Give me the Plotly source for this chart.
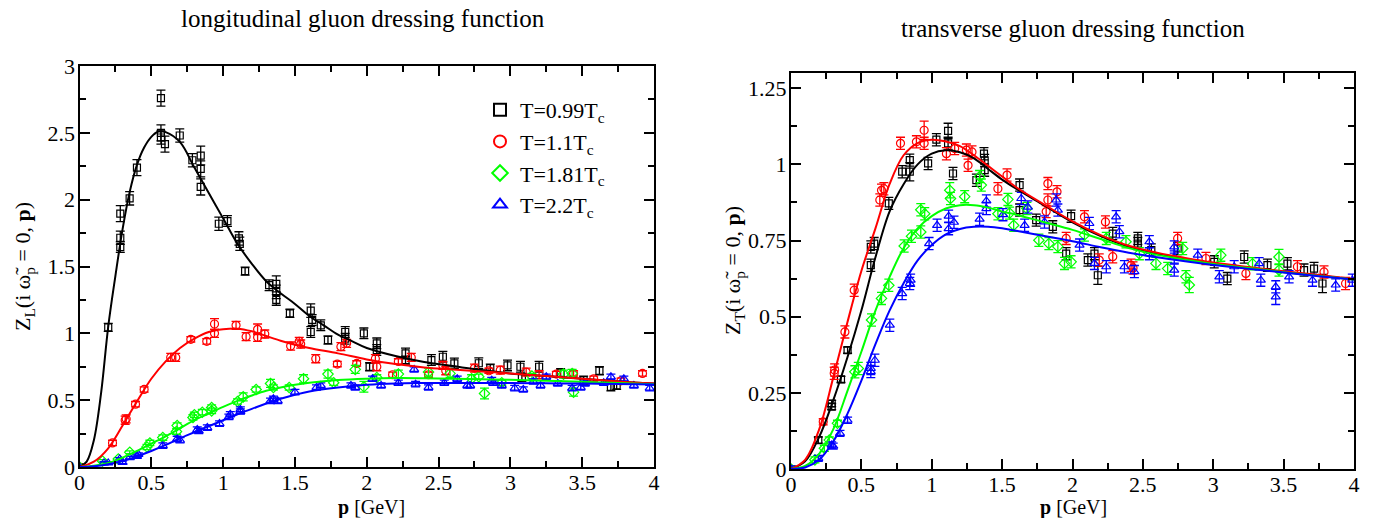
import plotly.graph_objects as go
from plotly.subplots import make_subplots

# ---------------------------------------------------------------------------
# Lattice data: (p [GeV], Z, dZ)
# ---------------------------------------------------------------------------
ZL_T099 = [
    (0.0, 0.0, 0.01), (0.20, 1.045, 0.03), (0.284, 1.645, 0.04), (0.284, 1.715, 0.05),
    (0.284, 1.895, 0.06), (0.349, 2.01, 0.05), (0.40, 2.24, 0.06), (0.567, 2.76, 0.06),
    (0.567, 2.50, 0.06), (0.567, 2.465, 0.05), (0.595, 2.415, 0.06), (0.698, 2.48, 0.05),
    (0.786, 2.295, 0.05), (0.844, 2.33, 0.07), (0.844, 2.23, 0.06), (0.844, 2.095, 0.06),
    (0.97, 1.82, 0.05), (1.03, 1.84, 0.04), (1.11, 1.71, 0.05), (1.116, 1.67, 0.05),
    (1.153, 1.465, 0.03), (1.32, 1.36, 0.04), (1.37, 1.37, 0.06), (1.37, 1.31, 0.05),
    (1.37, 1.25, 0.04), (1.465, 1.15, 0.03), (1.61, 1.17, 0.05), (1.62, 1.10, 0.04),
    (1.61, 1.01, 0.04), (1.68, 1.06, 0.04), (1.73, 0.95, 0.03), (1.85, 1.01, 0.04),
    (1.85, 0.96, 0.04), (1.98, 1.0, 0.04), (2.02, 0.75, 0.03), (2.07, 0.925, 0.04),
    (2.07, 0.875, 0.04), (2.27, 0.85, 0.04), (2.27, 0.80, 0.03), (2.45, 0.80, 0.04),
    (2.53, 0.825, 0.04), (2.61, 0.775, 0.04), (2.78, 0.776, 0.04), (2.86, 0.74, 0.03),
    (2.98, 0.76, 0.04), (3.07, 0.75, 0.04), (3.08, 0.67, 0.03), (3.20, 0.75, 0.04),
    (3.35, 0.705, 0.03), (3.51, 0.65, 0.03), (3.62, 0.72, 0.03), (3.70, 0.60, 0.03),
    (3.74, 0.61, 0.03),
]
ZL_T110 = [
    (0.0, 0.0, 0.01), (0.23, 0.18, 0.02), (0.318, 0.35, 0.03), (0.325, 0.36, 0.03),
    (0.39, 0.47, 0.02), (0.45, 0.58, 0.02), (0.635, 0.82, 0.03), (0.67, 0.82, 0.03),
    (0.775, 0.955, 0.02), (0.886, 0.94, 0.02), (0.94, 1.07, 0.04), (0.94, 1.00, 0.03),
    (1.09, 1.06, 0.03), (1.16, 0.975, 0.03), (1.24, 1.03, 0.04), (1.24, 0.97, 0.03),
    (1.29, 0.995, 0.03), (1.47, 0.905, 0.03), (1.53, 0.94, 0.03), (1.54, 0.92, 0.03),
    (1.645, 0.81, 0.03), (1.795, 0.77, 0.02), (1.82, 0.90, 0.03), (1.86, 0.925, 0.03),
    (1.93, 0.775, 0.02), (2.06, 0.81, 0.03), (2.07, 0.75, 0.03), (2.18, 0.69, 0.02),
    (2.22, 0.79, 0.02), (2.31, 0.82, 0.03), (2.43, 0.69, 0.02), (2.53, 0.76, 0.03),
    (2.55, 0.72, 0.03), (2.75, 0.74, 0.03), (2.85, 0.72, 0.02), (2.93, 0.725, 0.03),
    (3.11, 0.71, 0.03), (3.20, 0.69, 0.03), (3.32, 0.695, 0.02), (3.44, 0.70, 0.02),
    (3.58, 0.66, 0.02), (3.77, 0.645, 0.02), (3.92, 0.70, 0.02),
]
ZL_T181 = [
    (0.0, 0.0, 0.01), (0.16, 0.045, 0.01), (0.27, 0.06, 0.01), (0.35, 0.11, 0.01),
    (0.47, 0.15, 0.02), (0.49, 0.18, 0.02), (0.58, 0.22, 0.02), (0.675, 0.265, 0.02),
    (0.68, 0.31, 0.02), (0.79, 0.37, 0.02), (0.80, 0.39, 0.02), (0.855, 0.41, 0.02),
    (0.92, 0.42, 0.02), (0.92, 0.445, 0.02), (1.10, 0.49, 0.02), (1.14, 0.525, 0.03),
    (1.23, 0.58, 0.02), (1.33, 0.625, 0.03), (1.35, 0.595, 0.02), (1.46, 0.595, 0.02),
    (1.56, 0.66, 0.03), (1.73, 0.695, 0.03), (1.77, 0.63, 0.02), (1.92, 0.73, 0.03),
    (1.98, 0.60, 0.04), (2.07, 0.67, 0.02), (2.22, 0.695, 0.03), (2.43, 0.71, 0.03),
    (2.58, 0.70, 0.03), (2.73, 0.66, 0.03), (2.78, 0.675, 0.02), (2.82, 0.55, 0.04),
    (2.94, 0.63, 0.02), (3.15, 0.68, 0.02), (3.37, 0.695, 0.03), (3.43, 0.70, 0.03),
    (3.44, 0.56, 0.03),
]
ZL_T220 = [
    (0.0, 0.0, 0.01), (0.17, 0.03, 0.01), (0.20, 0.03, 0.01), (0.28, 0.06, 0.01),
    (0.30, 0.035, 0.01), (0.35, 0.07, 0.01), (0.40, 0.08, 0.01), (0.41, 0.095, 0.01),
    (0.58, 0.16, 0.02), (0.68, 0.21, 0.02), (0.70, 0.20, 0.02), (0.82, 0.28, 0.02),
    (0.83, 0.27, 0.02), (0.89, 0.295, 0.02), (0.975, 0.325, 0.02), (1.04, 0.375, 0.02),
    (1.05, 0.395, 0.02), (1.12, 0.415, 0.02), (1.12, 0.43, 0.02), (1.33, 0.495, 0.02),
    (1.35, 0.51, 0.02), (1.38, 0.495, 0.02), (1.50, 0.56, 0.02), (1.65, 0.595, 0.02),
    (1.68, 0.61, 0.02), (1.89, 0.61, 0.02), (1.92, 0.595, 0.02), (2.04, 0.66, 0.02),
    (2.10, 0.61, 0.02), (2.22, 0.63, 0.02), (2.33, 0.73, 0.02), (2.34, 0.62, 0.02),
    (2.43, 0.595, 0.02), (2.54, 0.63, 0.02), (2.63, 0.66, 0.02), (2.70, 0.61, 0.02),
    (2.72, 0.61, 0.02), (2.87, 0.65, 0.02), (2.88, 0.63, 0.02), (2.94, 0.61, 0.02),
    (3.03, 0.59, 0.02), (3.09, 0.58, 0.02), (3.16, 0.64, 0.02), (3.21, 0.61, 0.02),
    (3.25, 0.675, 0.02), (3.33, 0.625, 0.02), (3.43, 0.59, 0.02), (3.49, 0.595, 0.02),
    (3.52, 0.625, 0.02), (3.65, 0.63, 0.02), (3.70, 0.675, 0.02), (3.79, 0.66, 0.02),
    (3.86, 0.61, 0.02), (3.97, 0.59, 0.02),
]

ZT_T099 = [
    (0.0, 0.0, 0.01), (0.194, 0.095, 0.01), (0.289, 0.205, 0.01), (0.289, 0.215, 0.01),
    (0.355, 0.294, 0.01), (0.402, 0.39, 0.01), (0.567, 0.669, 0.02), (0.567, 0.729, 0.02),
    (0.591, 0.74, 0.02), (0.695, 0.872, 0.02), (0.79, 0.976, 0.02), (0.844, 0.976, 0.03),
    (0.844, 1.014, 0.02), (0.974, 1.003, 0.02), (1.033, 1.081, 0.02), (1.116, 1.11, 0.025),
    (1.116, 1.069, 0.02), (1.151, 0.97, 0.02), (1.317, 0.948, 0.02), (1.371, 1.035, 0.02),
    (1.376, 1.013, 0.02), (1.376, 0.981, 0.02), (1.624, 0.932, 0.02), (1.624, 0.85, 0.02),
    (1.742, 0.817, 0.02), (1.86, 0.795, 0.02), (1.99, 0.83, 0.02), (1.955, 0.707, 0.02),
    (2.109, 0.686, 0.02), (2.156, 0.707, 0.02), (2.18, 0.636, 0.03), (2.286, 0.773, 0.02),
    (2.464, 0.757, 0.02), (2.464, 0.74, 0.02), (2.56, 0.719, 0.02), (2.747, 0.724, 0.02),
    (3.007, 0.68, 0.02), (3.1, 0.625, 0.02), (3.22, 0.696, 0.02), (3.385, 0.669, 0.02),
    (3.527, 0.674, 0.02), (3.645, 0.653, 0.02), (3.716, 0.658, 0.02), (3.776, 0.609, 0.03),
]
ZT_T110 = [
    (0.0, 0.0, 0.01), (0.229, 0.155, 0.01), (0.307, 0.314, 0.02), (0.31, 0.325, 0.02),
    (0.383, 0.45, 0.02), (0.449, 0.587, 0.02), (0.631, 0.883, 0.02), (0.643, 0.915, 0.02),
    (0.66, 0.92, 0.02), (0.778, 1.069, 0.02), (0.891, 1.074, 0.02), (0.946, 1.112, 0.03),
    (0.946, 1.069, 0.02), (1.104, 1.035, 0.02), (1.163, 1.052, 0.02), (1.246, 1.047, 0.02),
    (1.258, 0.997, 0.02), (1.286, 1.041, 0.02), (1.47, 0.92, 0.02), (1.535, 0.965, 0.02),
    (1.825, 0.937, 0.02), (1.89, 0.91, 0.02), (1.825, 0.883, 0.02), (1.813, 0.845, 0.02),
    (1.955, 0.757, 0.02), (2.085, 0.828, 0.02), (2.234, 0.811, 0.02), (2.286, 0.697, 0.02),
    (2.19, 0.686, 0.02), (2.416, 0.669, 0.02), (2.43, 0.66, 0.02), (2.747, 0.757, 0.02),
    (2.948, 0.691, 0.02), (3.232, 0.642, 0.02), (3.598, 0.664, 0.02), (3.787, 0.647, 0.02),
    (3.94, 0.609, 0.02),
]
ZT_T181 = [
    (0.0, 0.0, 0.01), (0.17, 0.03, 0.01), (0.237, 0.068, 0.01), (0.272, 0.095, 0.01),
    (0.33, 0.150, 0.01), (0.454, 0.319, 0.02), (0.478, 0.33, 0.02), (0.572, 0.489, 0.02),
    (0.643, 0.56, 0.02), (0.695, 0.603, 0.02), (0.804, 0.732, 0.02), (0.856, 0.764, 0.02),
    (0.922, 0.778, 0.02), (0.922, 0.851, 0.02), (0.95, 0.838, 0.02), (1.128, 0.915, 0.025),
    (1.133, 0.888, 0.02), (1.234, 0.894, 0.02), (1.34, 0.96, 0.02), (1.352, 0.932, 0.02),
    (1.47, 0.838, 0.02), (1.541, 0.885, 0.02), (1.553, 0.84, 0.02), (1.582, 0.80, 0.02),
    (1.676, 0.855, 0.02), (1.761, 0.751, 0.02), (1.832, 0.74, 0.02), (1.896, 0.73, 0.02),
    (1.943, 0.675, 0.02), (1.99, 0.68, 0.02), (2.085, 0.768, 0.02), (2.24, 0.757, 0.02),
    (2.38, 0.746, 0.02), (2.475, 0.707, 0.02), (2.593, 0.675, 0.02), (2.676, 0.658, 0.02),
    (2.783, 0.724, 0.02), (2.806, 0.631, 0.02), (2.83, 0.604, 0.025), (3.054, 0.702, 0.02),
    (3.279, 0.674, 0.02), (3.467, 0.696, 0.025), (3.467, 0.653, 0.02),
]
ZT_T220 = [
    (0.0, 0.0, 0.01), (0.194, 0.035, 0.01), (0.289, 0.079, 0.01), (0.30, 0.075, 0.01),
    (0.348, 0.117, 0.01), (0.402, 0.16, 0.01), (0.567, 0.33, 0.02), (0.567, 0.32, 0.02),
    (0.596, 0.357, 0.02), (0.702, 0.472, 0.02), (0.79, 0.576, 0.02), (0.844, 0.609, 0.02),
    (0.85, 0.62, 0.02), (0.981, 0.74, 0.02), (1.038, 0.8, 0.02), (1.12, 0.83, 0.02),
    (1.158, 0.81, 0.02), (1.12, 0.789, 0.02), (1.34, 0.82, 0.02), (1.388, 0.88, 0.02),
    (1.388, 0.855, 0.02), (1.506, 0.835, 0.02), (1.636, 0.888, 0.02), (1.683, 0.86, 0.02),
    (1.66, 0.80, 0.02), (1.801, 0.811, 0.02), (1.884, 0.883, 0.02), (1.896, 0.85, 0.02),
    (2.05, 0.735, 0.02), (2.12, 0.806, 0.02), (2.156, 0.675, 0.02), (2.24, 0.664, 0.02),
    (2.31, 0.828, 0.02), (2.333, 0.779, 0.02), (2.369, 0.664, 0.02), (2.44, 0.648, 0.02),
    (2.546, 0.746, 0.02), (2.546, 0.707, 0.02), (2.723, 0.729, 0.02), (2.723, 0.696, 0.02),
    (2.723, 0.653, 0.02), (2.89, 0.702, 0.02), (3.043, 0.631, 0.02), (3.149, 0.664, 0.02),
    (3.326, 0.674, 0.02), (3.338, 0.62, 0.02), (3.444, 0.598, 0.02), (3.444, 0.565, 0.025),
    (3.539, 0.631, 0.02), (3.705, 0.62, 0.02), (3.87, 0.604, 0.02), (3.988, 0.62, 0.02),
]

# ---------------------------------------------------------------------------
# Fit curves, sampled in p
# ---------------------------------------------------------------------------
FIT_L_P_T099 = [0, 0.05, 0.1, 0.15, 0.2, 0.25, 0.3, 0.35, 0.4, 0.45, 0.5, 0.55, 0.6, 0.7,
                0.8, 0.9, 1.0, 1.1, 1.2, 1.3, 1.4, 1.5, 1.6, 1.7, 1.8, 1.9, 2.0, 2.2, 2.4,
                2.6, 2.8, 3.0, 3.25, 3.5, 3.75, 4.0]
FIT_L_Z_T099 = [0, 0.04, 0.2, 0.55, 1.05, 1.43, 1.78, 2.06, 2.26, 2.39, 2.47, 2.51, 2.505,
                2.43, 2.24, 2.05, 1.86, 1.67, 1.52, 1.39, 1.30, 1.22, 1.13, 1.06, 0.99, 0.94,
                0.89, 0.83, 0.785, 0.755, 0.725, 0.70, 0.68, 0.66, 0.64, 0.625]

FIT_L_P = [0, 0.1, 0.2, 0.3, 0.4, 0.5, 0.6, 0.7, 0.8, 0.9, 1.0, 1.1, 1.2, 1.3, 1.4, 1.5,
           1.6, 1.8, 2.0, 2.2, 2.4, 2.6, 2.8, 3.0, 3.25, 3.5, 3.75, 4.0]
FIT_L_Z_T110 = [0, 0.04, 0.14, 0.31, 0.49, 0.66, 0.79, 0.89, 0.96, 1.01, 1.03, 1.035, 1.015,
                0.98, 0.945, 0.915, 0.89, 0.85, 0.805, 0.77, 0.745, 0.73, 0.715, 0.70, 0.68,
                0.66, 0.64, 0.625]
FIT_L_Z_T181 = [0, 0.01, 0.03, 0.07, 0.12, 0.175, 0.23, 0.29, 0.35, 0.40, 0.45, 0.495, 0.535,
                0.57, 0.595, 0.615, 0.63, 0.65, 0.66, 0.665, 0.664, 0.661, 0.657, 0.652,
                0.645, 0.637, 0.628, 0.62]
FIT_L_Z_T220 = [0, 0.005, 0.02, 0.045, 0.08, 0.12, 0.165, 0.215, 0.26, 0.305, 0.35, 0.395,
                0.435, 0.475, 0.51, 0.54, 0.565, 0.595, 0.615, 0.625, 0.628, 0.629, 0.629,
                0.628, 0.626, 0.624, 0.621, 0.618]

FIT_T_P = [0, 0.1, 0.2, 0.3, 0.4, 0.5, 0.6, 0.7, 0.8, 0.9, 1.0, 1.1, 1.2, 1.3, 1.4, 1.5,
           1.6, 1.8, 2.0, 2.2, 2.4, 2.6, 2.8, 3.0, 3.25, 3.5, 3.75, 4.0]
FIT_T_Z_T099 = [0, 0.025, 0.105, 0.225, 0.365, 0.52, 0.695, 0.845, 0.935, 1.0, 1.035, 1.046,
                1.04, 1.02, 0.985, 0.95, 0.92, 0.865, 0.81, 0.765, 0.73, 0.707, 0.69, 0.675,
                0.66, 0.647, 0.635, 0.622]
FIT_T_Z_T110 = [0, 0.03, 0.13, 0.30, 0.48, 0.65, 0.79, 0.935, 1.03, 1.07, 1.081, 1.075, 1.06,
                1.03, 0.995, 0.96, 0.925, 0.868, 0.813, 0.768, 0.733, 0.71, 0.693, 0.678,
                0.663, 0.649, 0.637, 0.624]
FIT_T_Z_T181 = [0, 0.01, 0.05, 0.13, 0.255, 0.385, 0.52, 0.63, 0.725, 0.79, 0.83, 0.855,
                0.866, 0.866, 0.858, 0.845, 0.835, 0.81, 0.785, 0.755, 0.725, 0.703, 0.687,
                0.673, 0.66, 0.646, 0.634, 0.622]
FIT_T_Z_T220 = [0, 0.005, 0.03, 0.09, 0.18, 0.29, 0.41, 0.52, 0.61, 0.685, 0.735, 0.77, 0.788,
                0.795, 0.795, 0.79, 0.782, 0.765, 0.748, 0.728, 0.71, 0.695, 0.682, 0.67,
                0.657, 0.645, 0.633, 0.622]

LEGEND_NAMES = ["T=0.99T<sub>c</sub>", "T=1.1T<sub>c</sub>", "T=1.81T<sub>c</sub>",
                "T=2.2T<sub>c</sub>"]
COLORS = ["#000000", "#ff0000", "#00ff00", "#0000ff"]
SYMBOLS = ["square-open", "circle-open", "diamond-open", "triangle-up-open"]
SIZES = [7, 8, 8, 8]

FONT = "Liberation Serif, Times New Roman, serif"
W, H = 1375, 518


def px_x(x):
    return x / W


def px_y(y):
    return 1 - y / H


fig = make_subplots(rows=1, cols=2)

panels = [
    (1, [ZL_T099, ZL_T110, ZL_T181, ZL_T220],
     [(FIT_L_P_T099, FIT_L_Z_T099), (FIT_L_P, FIT_L_Z_T110), (FIT_L_P, FIT_L_Z_T181),
      (FIT_L_P, FIT_L_Z_T220)]),
    (2, [ZT_T099, ZT_T110, ZT_T181, ZT_T220],
     [(FIT_T_P, FIT_T_Z_T099), (FIT_T_P, FIT_T_Z_T110), (FIT_T_P, FIT_T_Z_T181),
      (FIT_T_P, FIT_T_Z_T220)]),
]

for col, series, fits in panels:
    for i, pts in enumerate(series):
        p = [t[0] for t in pts]
        z = [t[1] for t in pts]
        dz = [t[2] for t in pts]
        fig.add_trace(go.Scatter(
            x=p, y=z, mode="markers", name=LEGEND_NAMES[i],
            showlegend=(col == 1), legendgroup=str(i),
            marker=dict(symbol=SYMBOLS[i], size=SIZES[i], color=COLORS[i],
                        line=dict(width=1.2, color=COLORS[i])),
            error_y=dict(type="data", array=dz, visible=True, color=COLORS[i],
                         thickness=1.3, width=4.5),
        ), row=1, col=col)
    for i, (fp, fz) in enumerate(fits):
        fig.add_trace(go.Scatter(
            x=fp, y=fz, mode="lines", showlegend=False, legendgroup=str(i),
            line=dict(color=COLORS[i], width=2, shape="spline", smoothing=1.0),
        ), row=1, col=col)

axis_common = dict(
    showline=True, linecolor="black", linewidth=2, mirror="allticks",
    ticks="inside", ticklen=10, tickwidth=2, tickcolor="black",
    showgrid=False, zeroline=False, automargin=False,
    tickfont=dict(family=FONT, size=22, color="black"),
)

fig.update_xaxes(range=[0, 4], dtick=0.5, tick0=0, ticklabelstandoff=-5,
                 minor=dict(ticks="inside", ticklen=6, tickwidth=2, dtick=0.25,
                            tickcolor="black", showgrid=False),
                 **axis_common)
fig.update_xaxes(domain=[px_x(79.5), px_x(654)], row=1, col=1)
fig.update_xaxes(domain=[px_x(791), px_x(1354)], row=1, col=2)

fig.update_yaxes(range=[0, 3], dtick=0.5, tick0=0, ticklabelstandoff=-2,
                 minor=dict(ticks="inside", ticklen=6, tickwidth=2, dtick=0.25,
                            tickcolor="black", showgrid=False),
                 domain=[px_y(467), px_y(66)], row=1, col=1, **axis_common)
fig.update_yaxes(range=[0, 1.3], dtick=0.25, tick0=0, ticklabelstandoff=-2,
                 minor=dict(ticks="inside", ticklen=6, tickwidth=2, dtick=0.125,
                            tickcolor="black", showgrid=False),
                 domain=[px_y(469), px_y(73)], row=1, col=2, **axis_common)


def text_font(size):
    return dict(family=FONT, size=size, color="black")


annotations = [
    dict(text="longitudinal gluon dressing function", x=px_x(363), y=px_y(18),
         font=text_font(25)),
    dict(text="transverse gluon dressing function", x=px_x(1073), y=px_y(28),
         font=text_font(25)),
    dict(text="<b>p</b> [GeV]", x=px_x(371), y=px_y(507), font=text_font(20)),
    dict(text="<b>p</b> [GeV]", x=px_x(1073), y=px_y(507), font=text_font(20)),
    dict(text="Z<sub>L</sub>(i ω\u0303<sub>p</sub> = 0, <b>p</b>)", x=px_x(24),
         y=px_y(267), textangle=-90, font=text_font(22)),
    dict(text="Z<sub>T</sub>(i ω\u0303<sub>p</sub> = 0, <b>p</b>)", x=px_x(734),
         y=px_y(271), textangle=-90, font=text_font(22)),
]
for a in annotations:
    a.update(xref="paper", yref="paper", showarrow=False, xanchor="center",
             yanchor="middle")

fig.update_layout(
    width=W, height=H,
    margin=dict(l=0, r=0, t=0, b=0, autoexpand=False),
    font=dict(family=FONT, color="black"),
    paper_bgcolor="white", plot_bgcolor="white",
    annotations=annotations,
    legend=dict(x=px_x(480), y=px_y(89), xanchor="left", yanchor="top",
                bgcolor="rgba(0,0,0,0)", borderwidth=0, tracegroupgap=0,
                font=dict(family=FONT, size=22, color="black"),
                itemsizing="constant"),
    showlegend=True,
)

fig.write_html("out.html")
